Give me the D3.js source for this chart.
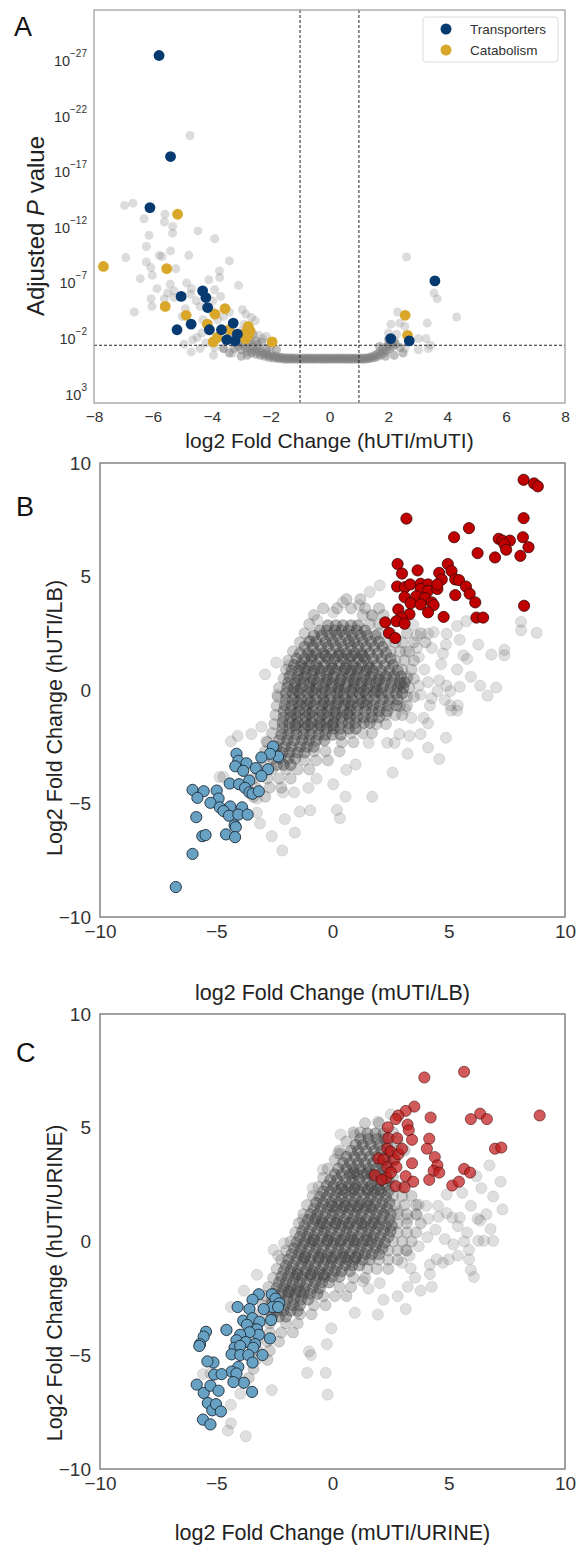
<!DOCTYPE html>
<html><head><meta charset="utf-8">
<script src="https://cdn.jsdelivr.net/npm/d3@7"></script>
<style>body{margin:0;background:#fff;} text{font-family:"Liberation Sans",Arial,sans-serif;}</style>
</head><body><svg id="c" width="579" height="1558"></svg>
<script>
// ---------------- DATA ----------------
// Panel A: [log2 fold change, log10 adjusted P]
const volcanoTransporters = [[-5.79,-27.4],[-5.40,-18.3],[-6.10,-13.7],[-5.04,-5.7],[-4.31,-6.2],[-4.20,-5.6],[-4.14,-4.7],[-5.18,-2.7],[-4.70,-3.2],[-3.67,-2.7],[-3.27,-3.3],[-4.08,-2.7],[-3.49,-1.8],[-3.21,-1.7],[-3.13,-2.3],[3.58,-7.1],[2.08,-1.9],[2.71,-1.7]];
const volcanoCatabolism = [[-5.16,-13.1],[-7.68,-8.4],[-5.53,-8.2],[-5.58,-4.8],[-4.87,-4.0],[-3.89,-4.1],[-3.55,-4.6],[-4.15,-3.2],[-3.41,-2.7],[-2.76,-3.0],[-2.70,-2.6],[-2.87,-2.4],[-3.95,-1.6],[-3.81,-2.0],[-1.95,-1.6],[-2.85,-1.9],[-2.76,-2.2],[2.57,-4.0],[2.65,-2.2]];
const volcanoOther = [[-4.74,-20.2],[-6.96,-13.9],[-6.68,-14.1],[-5.59,-13.1],[-5.61,-12.4],[-5.33,-12.0],[-5.33,-11.4],[-4.47,-11.6],[-6.13,-11.2],[-3.90,-10.9],[-6.22,-10.2],[-5.78,-9.4],[-5.69,-9.3],[-6.92,-9.2],[-4.78,-9.4],[-6.22,-8.8],[-3.40,-8.9],[-6.07,-8.3],[-5.22,-8.2],[-3.74,-8.0],[-6.02,-7.6],[-6.43,-7.3],[-3.73,-7.4],[-5.41,-6.8],[-5.86,-6.4],[-3.09,-6.7],[-5.28,-6.2],[-4.69,-6.4],[-6.06,-5.5],[-5.61,-5.5],[-5.28,-5.6],[-3.70,-5.7],[-6.03,-4.8],[-6.63,-4.3],[-4.72,-5.9],[-4.53,-5.3],[-4.40,-4.8],[-3.97,-5.3],[-3.40,-4.3],[-2.96,-4.5],[-2.84,-4.1],[-2.65,-3.8],[-2.52,-3.5],[-4.34,-2.4],[-4.65,-1.8],[-4.94,-1.4],[-4.70,-0.7],[-3.94,-0.4],[-3.59,-1.0],[-2.40,-2.2],[-2.27,-1.9],[-2.15,-2.1],[2.62,-9.25],[3.55,-6.0],[3.66,-5.5],[4.32,-3.85],[2.31,-4.3],[3.32,-3.3],[2.09,-3.2],[2.39,-3.3],[2.56,-3.0],[3.02,-1.9],[3.28,-1.9],[3.43,-1.3],[3.36,-1.0],[3.02,-0.9],[2.56,-1.0],[2.0,-2.4],[2.28,-2.3],[-4.3,-3.6],[-4.0,-4.4],[-3.8,-3.6],[-3.6,-3.9],[-3.3,-2.0],[-3.0,-2.6],[-2.9,-3.2],[-4.5,-2.0],[-4.2,-1.5],[-3.9,-1.1],[-3.3,-0.6],[-4.4,-1.0],[-5.0,-3.9],[-4.9,-4.6],[-5.5,-6.0],[-4.85,-6.9],[-4.1,-7.2],[-3.9,-6.3],[-6.3,-12.7],[-5.4,-9.8]];
const volcanoBand = [[-3.3,-1.9],[-3.2,-1.5],[-3.15,-2.1],[-3.1,-1.2],[-3.05,-1.7],[-3.0,-0.9],[-2.95,-1.4],[-2.9,-1.9],[-2.85,-1.1],[-2.8,-0.7],[-2.75,-1.5],[-2.7,-1.0],[-2.65,-0.6],[-2.6,-1.2],[-2.55,-0.8],[-2.5,-0.5],[-2.45,-1.0],[-2.4,-0.7],[-2.35,-0.4],[-2.3,-0.8],[-2.25,-0.5],[-2.2,-0.3],[-2.15,-0.6],[-2.1,-0.4],[-2.05,-0.2],[-2.0,-0.5],[-1.95,-0.3],[-1.9,-0.15],[-1.85,-0.35],[-1.8,-0.2],[-1.75,-0.1],[-1.7,-0.25],[-1.65,-0.1],[-1.6,-0.2],[-3.6,-1.0],[-3.4,-0.6],[-3.0,-0.3],[-2.6,-2.3],[-2.3,-1.6],[-2.0,-1.2],[-1.8,-0.9],[-2.5,-1.7],[-2.8,-0.4],[-3.25,-1.0],[-2.95,-2.2],[-2.7,-1.8],[-2.45,-1.4],[-2.15,-1.0],
[-1.55,-0.05],[-1.5,-0.18],[-1.45,-0.04],[-1.4,-0.15],[-1.35,-0.06],[-1.3,-0.17],[-1.25,-0.03],[-1.2,-0.14],[-1.15,-0.06],[-1.1,-0.16],[-1.05,-0.04],[-1.0,-0.13],[-0.95,-0.05],[-0.9,-0.15],[-0.85,-0.03],[-0.8,-0.14],[-0.75,-0.06],[-0.7,-0.16],[-0.65,-0.04],[-0.6,-0.13],[-0.55,-0.05],[-0.5,-0.15],[-0.45,-0.03],[-0.4,-0.14],[-0.35,-0.06],[-0.3,-0.16],[-0.25,-0.04],[-0.2,-0.13],[-0.15,-0.05],[-0.1,-0.15],[-0.05,-0.03],[0.0,-0.14],[0.05,-0.06],[0.1,-0.16],[0.15,-0.04],[0.2,-0.13],[0.25,-0.05],[0.3,-0.15],[0.35,-0.03],[0.4,-0.14],[0.45,-0.06],[0.5,-0.16],[0.55,-0.04],[0.6,-0.13],[0.65,-0.05],[0.7,-0.15],[0.75,-0.03],[0.8,-0.14],[0.85,-0.06],[0.9,-0.16],[0.95,-0.04],[1.0,-0.13],[1.05,-0.05],[1.1,-0.15],[1.15,-0.03],[1.2,-0.14],[1.25,-0.06],[1.3,-0.18],
[1.35,-0.1],[1.4,-0.25],[1.45,-0.15],[1.5,-0.35],[1.55,-0.2],[1.6,-0.5],[1.65,-0.3],[1.7,-0.7],[1.75,-0.45],[1.8,-0.9],[1.85,-0.6],[1.9,-1.1],[1.95,-0.8],[2.0,-1.3],[2.05,-1.0],[2.1,-1.5],[2.15,-1.2],[2.2,-1.7],[2.25,-1.4],[1.7,-1.2],[2.0,-1.8],[2.4,-1.1],[2.5,-0.6],[2.2,-0.4],[1.9,-0.3]];

// Panel B: [log2FC mUTI/LB, log2FC hUTI/LB]
const lbUp = [[8.22,9.26],[8.67,9.10],[8.83,8.97],[3.18,7.55],[8.22,7.57],[5.87,7.13],[5.23,6.73],[7.15,6.66],[7.31,6.58],[7.63,6.58],[7.39,6.42],[8.19,6.73],[7.47,6.18],[8.43,6.29],[6.24,6.03],[6.99,5.84],[8.08,5.91],[2.80,5.55],[4.96,5.55],[2.99,5.13],[3.66,5.27],[4.59,5.16],[5.12,5.24],[4.70,4.87],[5.28,4.87],[5.44,4.84],[2.78,4.56],[3.12,4.53],[3.34,4.65],[3.79,4.68],[4.11,4.65],[3.79,4.45],[4.11,4.37],[4.51,4.45],[4.51,4.65],[5.74,4.56],[5.90,4.24],[5.28,4.18],[3.10,4.09],[3.60,4.13],[3.98,4.05],[4.27,3.86],[3.36,3.82],[3.79,3.77],[4.35,3.74],[6.14,3.86],[8.24,3.71],[2.83,3.55],[3.31,3.34],[4.11,3.42],[4.78,3.22],[2.96,3.19],[6.19,3.19],[6.48,3.19],[2.27,2.98],[2.75,3.03],[3.10,2.92],[2.43,2.51],[2.70,2.29]];
const lbDown = [[-2.56,-2.49],[-2.34,-2.93],[-2.69,-2.81],[-3.06,-2.97],[-4.13,-2.81],[-4.05,-3.12],[-3.70,-3.23],[-4.18,-3.36],[-3.84,-3.56],[-3.30,-3.44],[-2.77,-3.49],[-3.58,-3.99],[-3.06,-3.79],[-4.42,-4.12],[-4.02,-4.15],[-3.76,-4.31],[-3.57,-4.51],[-3.44,-4.57],[-3.17,-4.46],[-6.02,-4.40],[-5.54,-4.46],[-4.98,-4.43],[-4.90,-4.78],[-5.81,-4.75],[-5.25,-4.97],[-4.85,-5.17],[-4.40,-5.13],[-3.89,-5.17],[-4.69,-5.33],[-4.45,-5.54],[-4.05,-5.49],[-3.65,-5.49],[-5.86,-5.60],[-4.21,-5.96],[-4.16,-6.04],[-5.60,-6.44],[-5.46,-6.39],[-4.58,-6.36],[-4.19,-6.48],[-6.02,-7.22],[-6.74,-8.68]];
const lbOther = [[2.03,4.61],[1.6,4.32],[0.43,3.86],[0.03,3.42],[-0.66,3.08],[1.15,3.74],[1.71,3.27],[3.47,2.87],[3.63,2.40],[4.11,2.48],[4.35,2.55],[4.91,2.48],[5.36,2.82],[5.47,2.21],[5.76,3.03],[6.27,2.00],[6.83,1.56],[7.39,1.77],[7.39,1.53],[8.11,3.00],[8.11,2.63],[8.78,2.52],[5.63,1.53],[5.79,1.37],[5.36,0.90],[5.95,0.58],[6.35,0.19],[7.04,0.11],[6.67,-0.25],[5.47,0.14],[5.07,-0.05],[4.91,0.19],[4.11,0.35],[4.59,0.43],[3.71,0.19],[3.79,-0.21],[4.19,-0.68],[5.07,-0.68],[5.39,-0.68],[5.36,-0.91],[5.10,-0.91],[4.83,-0.44],[4.51,-0.05],[4.27,-0.36],[3.12,-0.84],[3.39,-1.23],[3.92,-1.23],[4.11,-1.47],[3.79,-1.94],[3.31,-2.02],[2.88,-1.94],[4.88,-2.10],[4.11,-2.54],[4.59,-3.04],[3.23,-2.81],[2.59,-3.64],[2.35,-2.33],[2.67,-2.33],[1.55,-2.33],[0.99,-3.28],[0.59,-3.52],[0.03,-4.15],[-0.69,-3.91],[-1.04,-4.31],[-1.65,-4.51],[-2.13,-4.51],[0.56,-4.70],[1.71,-4.70],[0.19,-5.28],[0.32,-5.65],[-0.96,-5.30],[-1.41,-5.36],[-2.05,-5.69],[-1.62,-6.28],[-2.61,-6.44],[-2.16,-7.07],[-3.12,-5.88],[-3.25,-5.41],[-3.25,-4.78],[-4.85,-3.83],[-4.69,-3.83],[-4.37,-2.26],[-4.08,-2.02],[-3.49,-1.94],[-3.06,-1.62],[-2.85,-2.26],[-2.37,-0.21],[-2.90,0.69],[-2.42,1.21],[-1.89,1.09],[-1.33,1.21],[-0.93,2.16],[2.51,0.58],[2.96,0.27],[3.23,0.58],[3.15,1.69],[3.63,1.85],[4.27,1.85],[4.75,1.61],[4.67,1.14],[3.95,0.90],[3.71,1.45],[4.88,2.00]];
// dense cloud, rows: [y, [x values]]
const lbHalo = [[4.0,[0.6,1.2]],[3.6,[-0.4,0.2,0.8,1.4,2.0]],[3.3,[-0.8,1.3,1.7,2.2]],[2.9,[-1.0,1.6,2.0]],[2.5,[-1.2,2.0,2.5,3.2,3.8]],[2.1,[-1.4,2.3,2.7,3.0,3.5,4.0]],[1.7,[-1.7,2.5,2.9,3.3]],[1.3,[-1.9,2.7,3.1,3.5]],[0.9,[-2.0,3.0,3.4]],[0.5,[-2.1,3.2,3.5]],[0.1,[-2.3,3.3]],[-0.3,[-2.35,3.2,3.5]],[-0.7,[-2.4,2.9,3.2]],[-1.1,[-2.45,2.3,2.7,3.0]],[-1.5,[-2.5,1.9,2.3]],[-1.9,[-2.6,0.8,1.3,1.7]],[-2.3,[-2.8,0.4,0.9]],[-2.7,[-2.9,-0.8,-0.3,0.3]],[-3.1,[-3.0,-1.2,-0.7,-0.2]],[-3.5,[-3.2,-2.6,-2.0,-1.5,-1.0]],[-3.9,[-3.4,-2.8,-2.3,-1.8]],[-4.3,[-3.3,-2.7,-2.2]],[-4.7,[-3.4,-2.9]]];
const lbCore = [[2.85,[-0.2,0.15,0.45,0.8,1.1]],[2.62,[-0.55,-0.25,0.1,0.38,0.7,1.05,1.4]],[2.4,[-0.8,-0.45,-0.1,0.2,0.55,0.85,1.2,1.5,1.85]],[2.13,[-1.0,-0.7,-0.3,0.0,0.35,0.7,0.95,1.3,1.65,2.0]],[1.9,[-1.2,-0.85,-0.5,-0.2,0.15,0.45,0.8,1.1,1.45,1.8,2.15]],[1.62,[-1.4,-1.05,-0.7,-0.4,-0.05,0.3,0.6,0.95,1.25,1.6,1.95,2.3]],[1.38,[-1.55,-1.2,-0.9,-0.55,-0.2,0.1,0.45,0.75,1.1,1.4,1.75,2.1,2.5]],[1.1,[-1.65,-1.35,-1.0,-0.7,-0.35,-0.05,0.3,0.6,0.9,1.25,1.55,1.9,2.25,2.6]],[0.85,[-1.75,-1.45,-1.1,-0.8,-0.5,-0.15,0.15,0.5,0.8,1.1,1.45,1.75,2.1,2.45,2.8]],[0.6,[-1.85,-1.5,-1.2,-0.9,-0.55,-0.25,0.05,0.4,0.7,1.0,1.35,1.65,2.0,2.3,2.65,2.95]],[0.33,[-1.9,-1.6,-1.25,-0.95,-0.65,-0.3,0.0,0.3,0.65,0.95,1.25,1.6,1.9,2.25,2.55,2.9,3.1]],[0.1,[-1.95,-1.65,-1.35,-1.0,-0.7,-0.4,-0.05,0.25,0.55,0.9,1.2,1.5,1.85,2.15,2.5,2.8,3.05]],[-0.15,[-2.0,-1.7,-1.4,-1.05,-0.75,-0.45,-0.1,0.2,0.5,0.85,1.15,1.45,1.8,2.1,2.4,2.75,3.0]],[-0.42,[-2.0,-1.7,-1.35,-1.05,-0.7,-0.4,-0.1,0.25,0.55,0.85,1.2,1.5,1.8,2.15,2.45,2.8]],[-0.68,[-2.05,-1.75,-1.4,-1.1,-0.8,-0.45,-0.15,0.15,0.5,0.8,1.1,1.45,1.75,2.05,2.4,2.75]],[-0.93,[-2.1,-1.8,-1.45,-1.15,-0.85,-0.5,-0.2,0.1,0.45,0.75,1.05,1.4,1.7,2.0,2.35]],[-1.2,[-2.1,-1.8,-1.5,-1.15,-0.85,-0.55,-0.2,0.1,0.4,0.75,1.05,1.35,1.7,2.0]],[-1.45,[-2.15,-1.85,-1.5,-1.2,-0.9,-0.55,-0.25,0.05,0.4,0.7,1.0,1.35,1.6]],[-1.7,[-2.15,-1.85,-1.55,-1.2,-0.9,-0.6,-0.25,0.05,0.35,0.7,1.0]],[-1.97,[-2.2,-1.9,-1.55,-1.25,-0.95,-0.6,-0.3,0.0,0.35]],[-2.22,[-2.3,-1.95,-1.65,-1.3,-1.0,-0.7,-0.35]],[-2.5,[-2.4,-2.05,-1.75,-1.4,-1.1,-0.8]],[-2.75,[-2.5,-2.15,-1.85,-1.5,-1.2]],[-3.02,[-2.55,-2.25,-1.9,-1.6]],[-3.3,[-2.4,-2.1,-1.8]],
 [1.5,[-0.9,-0.3,0.25,0.8,1.3]],[0.95,[-1.2,-0.6,0.0,0.55,1.05,1.6]],[0.45,[-1.4,-0.8,-0.2,0.35,0.9,1.45,2.0]],[-0.05,[-1.5,-0.9,-0.3,0.3,0.8,1.35,1.9]],[-0.55,[-1.5,-0.95,-0.35,0.2,0.7,1.3]],[-1.05,[-1.6,-1.0,-0.4,0.15,0.65]],[-1.55,[-1.6,-1.05,-0.5,0.0]]];

// Panel C: [log2FC mUTI/URINE, log2FC hUTI/URINE]
const urUp = [[3.95,7.21],[5.66,7.46],[8.91,5.54],[6.35,5.62],[6.64,5.38],[5.95,5.38],[4.22,5.45],[3.52,5.93],[3.15,5.74],[2.83,5.54],[2.72,5.38],[2.38,5.02],[3.23,5.14],[3.28,4.89],[2.40,4.54],[2.78,4.54],[3.42,4.47],[4.16,4.52],[4.06,4.08],[4.40,3.71],[4.51,3.35],[4.35,3.11],[4.16,2.71],[3.42,3.44],[3.15,2.87],[3.47,2.63],[2.72,2.43],[3.10,2.38],[1.82,2.92],[1.98,3.65],[2.35,4.08],[2.51,3.95],[2.19,3.60],[2.35,3.27],[2.32,2.79],[2.67,3.60],[2.83,3.84],[2.99,4.08],[2.75,3.27],[2.51,3.03],[2.11,2.71],[6.99,4.08],[7.26,4.13],[5.66,3.19],[5.92,3.03],[5.15,2.46],[5.44,2.63],[4.59,3.03]];
const urDown = [[-2.61,-2.32],[-2.45,-2.51],[-2.29,-2.72],[-3.17,-2.32],[-3.44,-2.56],[-2.58,-2.88],[-2.96,-2.97],[-2.34,-2.88],[-4.08,-2.88],[-3.57,-2.97],[-3.84,-3.48],[-3.44,-3.37],[-3.14,-3.53],[-2.64,-3.45],[-3.68,-3.66],[-3.25,-3.86],[-3.17,-4.10],[-3.57,-3.99],[-3.97,-4.10],[-4.56,-3.89],[-2.69,-4.26],[-4.13,-4.34],[-3.73,-4.42],[-3.33,-4.51],[-4.21,-4.67],[-3.97,-4.59],[-3.41,-4.67],[-5.44,-3.97],[-5.54,-4.18],[-5.70,-4.51],[-5.73,-4.59],[-4.34,-4.96],[-3.97,-4.99],[-3.62,-4.99],[-3.01,-4.99],[-3.44,-5.32],[-4.05,-5.51],[-4.34,-5.72],[-4.13,-5.80],[-3.81,-6.21],[-4.26,-6.18],[-3.46,-6.61],[-5.12,-5.32],[-5.38,-5.27],[-5.09,-5.85],[-4.77,-5.83],[-5.84,-6.29],[-5.54,-6.66],[-5.25,-6.34],[-4.90,-6.56],[-5.36,-7.10],[-5.17,-7.42],[-5.01,-7.15],[-4.80,-7.47],[-5.57,-7.83],[-5.25,-8.04]];
const urOther = [[0.35,4.70],[0.96,4.68],[1.95,5.27],[2.51,5.59],[0.24,3.87],[0.35,3.84],[-0.42,3.16],[-0.85,2.35],[-0.72,1.0],[-1.28,0.96],[-1.28,-0.08],[-2.08,-0.08],[-2.53,-0.37],[-2.34,-0.62],[-3.25,-1.46],[-3.81,-2.16],[-4.37,-2.88],[-4.58,-3.86],[-5.57,-5.83],[-5.25,-5.80],[-3.97,-6.69],[-2.61,-6.53],[-3.73,-8.56],[-4.50,-8.31],[-4.37,-7.99],[-4.37,-7.18],[-1.09,-5.77],[-0.29,-5.77],[-0.21,-6.73],[-0.93,-4.99],[-1.01,-4.83],[-0.24,-4.51],[-0.05,-3.82],[0.96,-3.13],[1.95,-3.21],[3.15,-2.97],[2.19,-2.56],[2.80,-2.40],[3.23,-1.99],[3.79,-2.16],[4.27,-1.99],[4.19,-1.43],[4.75,-0.94],[5.0,-0.78],[5.2,-0.13],[5.39,-0.62],[5.87,-0.78],[5.95,-1.26],[6.08,-1.56],[5.87,-0.37],[5.66,0.0],[6.27,0.03],[6.51,0.03],[6.91,0.03],[6.80,0.55],[6.35,0.92],[6.24,1.0],[5.79,0.39],[5.39,0.68],[5.15,1.05],[5.47,1.05],[5.95,1.57],[6.62,1.20],[6.91,1.98],[7.31,1.41],[7.23,2.63],[6.75,3.35],[6.40,2.35],[6.19,2.87],[5.58,2.14],[4.91,2.06],[4.54,1.57],[4.03,1.57],[3.71,1.62],[4.56,1.09],[4.91,1.25],[4.83,0.11],[4.48,-0.78],[4.19,-1.02],[3.71,-0.21],[3.31,-0.62],[3.15,-0.37],[2.83,1.33],[3.23,1.0],[3.63,1.17],[4.11,1.0],[4.08,0.19],[4.43,0.52],[3.36,-1.18],[3.55,-1.59],[2.99,-0.94],[2.03,-1.83],[1.55,-2.07],[1.31,-1.75]];
const urHalo = [[5.2,[1.4,2.0]],[4.8,[0.9,1.2,2.6]],[4.4,[0.6,2.8]],[4.0,[0.3,2.8,3.1]],[3.6,[0.1,2.6]],[3.2,[-0.2,2.5]],[2.8,[-0.4,2.6]],[2.4,[-0.6,2.6,3.0]],[2.0,[-0.85,2.6,3.0,3.4]],[1.6,[-1.1,2.7,3.1,3.6]],[1.2,[-1.25,2.8,3.2,3.6]],[0.8,[-1.45,2.8,3.2,3.8]],[0.4,[-1.6,2.8,3.2,3.6]],[0.0,[-1.8,2.6,3.0,3.4]],[-0.4,[-2.0,2.4,2.8,3.2]],[-0.8,[-2.2,2.0,2.4,2.8]],[-1.2,[-2.4,1.5,1.9,2.4]],[-1.6,[-2.55,0.9,1.4]],[-2.0,[-2.75,0.3,0.8]],[-2.4,[-2.9,-0.4,0.1,0.6]],[-2.8,[-3.0,-0.8,-0.3]],[-3.2,[-3.1,-1.4,-0.9]],[-3.6,[-3.2,-2.7,-2.0,-1.5]],[-4.0,[-3.2,-2.7,-2.2,-1.7]],[-4.4,[-3.3,-2.8,-2.3]],[-4.8,[-3.2,-2.7]],[-5.2,[-3.3,-2.8]],[-5.6,[-3.4]],[-6.0,[-3.6]]];
const urCore = [[4.75,[1.5,1.85,2.2]],[4.5,[1.2,1.55,1.9,2.25]],[4.25,[1.0,1.3,1.65,2.0,2.35]],[3.98,[0.8,1.1,1.45,1.8,2.1,2.45]],[3.72,[0.6,0.95,1.25,1.6,1.9,2.25]],[3.45,[0.45,0.75,1.1,1.4,1.75,2.05,2.35]],[3.2,[0.25,0.6,0.9,1.2,1.55,1.85,2.2]],[2.95,[0.1,0.4,0.75,1.05,1.35,1.7,2.0,2.3]],[2.7,[-0.1,0.2,0.55,0.85,1.15,1.5,1.8,2.1,2.4]],[2.45,[-0.25,0.05,0.4,0.7,1.0,1.3,1.65,1.95,2.3]],[2.2,[-0.4,-0.1,0.2,0.55,0.85,1.15,1.5,1.8,2.1,2.4]],[1.95,[-0.55,-0.25,0.1,0.4,0.7,1.0,1.35,1.65,1.95,2.3]],[1.7,[-0.7,-0.4,-0.05,0.25,0.55,0.9,1.2,1.5,1.85,2.15,2.45]],[1.45,[-0.8,-0.5,-0.2,0.15,0.45,0.75,1.1,1.4,1.7,2.05,2.35]],[1.2,[-0.95,-0.65,-0.3,0.0,0.3,0.65,0.95,1.25,1.6,1.9,2.2,2.5]],[0.95,[-1.05,-0.75,-0.45,-0.1,0.2,0.5,0.85,1.15,1.45,1.8,2.1,2.45]],[0.7,[-1.2,-0.85,-0.55,-0.25,0.1,0.4,0.7,1.05,1.35,1.65,2.0,2.3,2.55]],[0.45,[-1.3,-1.0,-0.65,-0.35,-0.05,0.3,0.6,0.9,1.25,1.55,1.85,2.2,2.5]],[0.2,[-1.4,-1.1,-0.8,-0.45,-0.15,0.15,0.5,0.8,1.1,1.45,1.75,2.05,2.4]],[-0.05,[-1.55,-1.2,-0.9,-0.6,-0.25,0.05,0.35,0.7,1.0,1.3,1.65,1.95,2.25]],[-0.3,[-1.65,-1.35,-1.0,-0.7,-0.4,-0.05,0.25,0.55,0.9,1.2,1.5,1.85,2.15]],[-0.55,[-1.75,-1.45,-1.15,-0.8,-0.5,-0.2,0.15,0.45,0.75,1.1,1.4,1.7,2.0]],[-0.8,[-1.9,-1.55,-1.25,-0.95,-0.6,-0.3,0.0,0.35,0.65,0.95,1.3,1.6]],[-1.05,[-2.0,-1.7,-1.35,-1.05,-0.75,-0.4,-0.1,0.2,0.55,0.85,1.15]],[-1.3,[-2.1,-1.8,-1.5,-1.15,-0.85,-0.55,-0.2,0.1,0.4,0.75]],[-1.55,[-2.2,-1.9,-1.6,-1.3,-0.95,-0.65,-0.35,0.0,0.3]],[-1.8,[-2.3,-2.0,-1.7,-1.4,-1.1,-0.75,-0.45,-0.15]],[-2.05,[-2.4,-2.1,-1.8,-1.5,-1.2,-0.85,-0.55]],[-2.3,[-2.5,-2.2,-1.9,-1.6,-1.25,-0.95,-0.65]],[-2.55,[-2.6,-2.3,-1.95,-1.65,-1.35,-1.05]],[-2.8,[-2.65,-2.35,-2.05,-1.7,-1.4]],[-3.05,[-2.7,-2.4,-2.1,-1.8,-1.5]],[-3.3,[-2.6,-2.3,-2.0]],
 [3.0,[0.9,1.5]],[2.3,[0.4,0.95,1.5,2.0]],[1.55,[0.0,0.55,1.05,1.6]],[0.8,[-0.4,0.15,0.7,1.25,1.8]],[0.05,[-0.8,-0.2,0.35,0.9,1.5]],[-0.7,[-1.2,-0.6,-0.05,0.5,1.0]],[-1.45,[-1.5,-0.95,-0.4]],[-2.2,[-1.9,-1.4]]];

// ticks and labels
const xTicksA = [-8,-6,-4,-2,0,2,4,6,8];
const yTicksA = [-27,-22,-17,-12,-7,-2,3];
const ticksBC = [-10,-5,0,5,10];
const legendLabels = ["Transporters","Catabolism"];

// ---------------- DRAW ----------------
const svg = d3.select("#c");
const FONT = '"Liberation Sans", Arial, sans-serif';
const rows = r => r.flatMap(([y, xs]) => xs.map(x => [x, y]));

// ---- Panel A ----
const A = {x0:94, x1:565, y0:10, y1:403};
const xA = d3.scaleLinear().domain([-8,8]).range([A.x0,A.x1]);
const yA = d3.scaleLinear().domain([3.9,-31.5]).range([A.y1,A.y0]);
const gA = svg.append("g");
gA.append("g").selectAll("circle").data(volcanoOther).join("circle")
  .attr("cx",d=>xA(d[0])).attr("cy",d=>yA(d[1])).attr("r",4.5)
  .attr("fill","#808080").attr("fill-opacity",0.28);
gA.append("g").selectAll("circle").data(volcanoBand).join("circle")
  .attr("cx",d=>xA(d[0])).attr("cy",d=>yA(d[1])).attr("r",4.5)
  .attr("fill","#808080").attr("fill-opacity",0.5);
// dashed threshold lines
[-1,1].forEach(v=>gA.append("line").attr("x1",xA(v)).attr("x2",xA(v)).attr("y1",A.y0).attr("y2",A.y1)
  .attr("stroke","#222").attr("stroke-width",1).attr("stroke-dasharray","3,2"));
gA.append("line").attr("x1",A.x0).attr("x2",A.x1).attr("y1",yA(Math.log10(0.05))).attr("y2",yA(Math.log10(0.05)))
  .attr("stroke","#222").attr("stroke-width",1).attr("stroke-dasharray","3,2");
gA.append("g").selectAll("circle").data(volcanoCatabolism).join("circle")
  .attr("cx",d=>xA(d[0])).attr("cy",d=>yA(d[1])).attr("r",5.4).attr("fill","#d9a82b");
gA.append("g").selectAll("circle").data(volcanoTransporters).join("circle")
  .attr("cx",d=>xA(d[0])).attr("cy",d=>yA(d[1])).attr("r",5.4).attr("fill","#063a70");
gA.append("rect").attr("x",A.x0).attr("y",A.y0).attr("width",A.x1-A.x0).attr("height",A.y1-A.y0)
  .attr("fill","none").attr("stroke","#a0a0a0").attr("stroke-width",1.3);
const axA = gA.append("g").attr("transform",`translate(0,${A.y1})`)
  .call(d3.axisBottom(xA).tickValues(xTicksA).tickSize(0).tickPadding(8));
axA.select(".domain").remove();
axA.selectAll("text").attr("font-size",15.5).attr("fill","#333").attr("font-family",FONT);
const ayA = gA.append("g").attr("transform",`translate(${A.x0},0)`)
  .call(d3.axisLeft(yA).tickValues(yTicksA).tickSize(0).tickPadding(7).tickFormat(()=>""));
ayA.select(".domain").remove();
ayA.selectAll(".tick text").each(function(d){
  const t = d3.select(this).attr("dy",null).attr("y",6).attr("font-family",FONT).attr("fill","#333");
  t.append("tspan").attr("font-size",14.5).text("10");
  t.append("tspan").attr("font-size",10).attr("dy",-9).text(d3.format("")(d));
});
gA.append("text").attr("transform",`translate(44,226) rotate(-90)`).attr("text-anchor","middle")
  .attr("font-size",24).attr("fill","#222")
  .call(t=>{t.append("tspan").text("Adjusted ");t.append("tspan").attr("font-style","italic").text("P");t.append("tspan").text(" value");});
gA.append("text").attr("x",(A.x0+A.x1)/2).attr("y",448).attr("text-anchor","middle")
  .attr("font-size",21).attr("fill","#222").text("log2 Fold Change (hUTI/mUTI)");
// legend
const lg = gA.append("g");
lg.append("rect").attr("x",423).attr("y",17).attr("width",135).attr("height",45).attr("rx",3)
  .attr("fill","#fff").attr("fill-opacity",0.85).attr("stroke","#dcdcdc");
[["#063a70",29],["#d9a82b",50]].forEach(([c,y],i)=>{
  lg.append("circle").attr("cx",446).attr("cy",y).attr("r",5.5).attr("fill",c);
  lg.append("text").attr("x",470).attr("y",y+5).attr("font-size",13.5).attr("fill","#333").text(legendLabels[i]);
});
svg.append("text").attr("x",14).attr("y",36).attr("font-size",27).attr("fill","#111").text("A");

// ---- Panels B & C ----
function scatter(P, other, halo, core, up, down, upStyle, xTitle, yTitle, letter){
  const x = d3.scaleLinear().domain([-10,10]).range([P.x0,P.x1]);
  const y = d3.scaleLinear().domain([-10,10]).range([P.y1,P.y0]);
  const g = svg.append("g");
  const grey = (data, fo, so) => g.append("g").selectAll("circle").data(data).join("circle")
    .attr("cx",d=>x(d[0])).attr("cy",d=>y(d[1])).attr("r",5.6)
    .attr("fill","#444").attr("fill-opacity",fo)
    .attr("stroke","#2a2a2a").attr("stroke-opacity",so).attr("stroke-width",0.8);
  grey(other,0.17,0.14);
  grey(rows(halo),0.25,0.2);
  grey(rows(core),0.4,0.36);
  g.append("g").selectAll("circle").data(down).join("circle")
    .attr("cx",d=>x(d[0])).attr("cy",d=>y(d[1])).attr("r",5.6)
    .attr("fill","#67a1c3").attr("stroke","#1c2a38").attr("stroke-width",0.9);
  g.append("g").selectAll("circle").data(up).join("circle")
    .attr("cx",d=>x(d[0])).attr("cy",d=>y(d[1])).attr("r",5.6)
    .attr("fill",upStyle.fill).attr("fill-opacity",upStyle.op)
    .attr("stroke","#3a0808").attr("stroke-opacity",upStyle.sop).attr("stroke-width",0.9);
  g.append("rect").attr("x",P.x0).attr("y",P.y0).attr("width",P.x1-P.x0).attr("height",P.y1-P.y0)
    .attr("fill","none").attr("stroke","#7a7a7a").attr("stroke-width",1.4);
  const ax = g.append("g").attr("transform",`translate(0,${P.y1})`)
    .call(d3.axisBottom(x).tickValues(ticksBC).tickSize(0).tickPadding(8));
  const ay = g.append("g").attr("transform",`translate(${P.x0},0)`)
    .call(d3.axisLeft(y).tickValues(ticksBC).tickSize(0).tickPadding(9));
  [ax,ay].forEach(a=>{a.select(".domain").remove();
    a.selectAll("text").attr("font-size",19).attr("fill","#333").attr("font-family",FONT);});
  g.append("text").attr("x",(P.x0+P.x1)/2).attr("y",P.xt).attr("text-anchor","middle")
    .attr("font-size",21.5).attr("fill","#222").text(xTitle);
  g.append("text").attr("transform",`translate(${P.ytx},${P.yty}) rotate(-90)`).attr("text-anchor","middle")
    .attr("font-size",21.5).attr("fill","#222").text(yTitle);
  svg.append("text").attr("x",16).attr("y",P.ly).attr("font-size",27).attr("fill","#111").text(letter);
}
scatter({x0:100,x1:565,y0:463,y1:917,xt:1000,ytx:62,yty:718,ly:516},
  lbOther, lbHalo, lbCore, lbUp, lbDown, {fill:"#c00000",op:1,sop:0.9},
  "log2 Fold Change (mUTI/LB)","Log2 Fold Change (hUTI/LB)","B");
scatter({x0:100,x1:565,y0:1014,y1:1469,xt:1540,ytx:62,yty:1283,ly:1062},
  urOther, urHalo, urCore, urUp, urDown, {fill:"#c21a1a",op:0.72,sop:0.6},
  "log2 Fold Change (mUTI/URINE)","Log2 Fold Change (hUTI/URINE)","C");
</script></body></html>
